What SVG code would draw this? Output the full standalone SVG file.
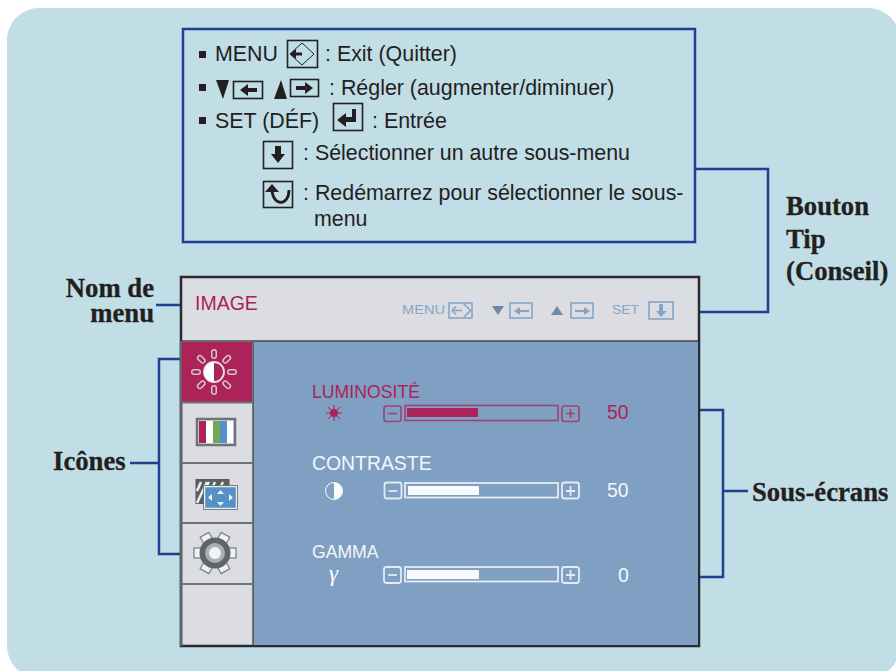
<svg xmlns="http://www.w3.org/2000/svg" width="896" height="671" viewBox="0 0 896 671">
<style>
.t{font-family:"Liberation Sans",Arial,sans-serif;fill:#231f20;font-size:21.4px}
.b{font-family:"Liberation Serif","Times New Roman",serif;font-weight:bold;fill:#231f20;font-size:26.7px;stroke:#231f20;stroke-width:.3}
.c{fill:none;stroke:#1f3f8f;stroke-width:2.5}
.k{fill:none;stroke:#231f20;stroke-width:1.6}
.s{font-family:"Liberation Sans",Arial,sans-serif;font-size:19.400px}
.w{fill:#f8f9fb}.wl{fill:none;stroke:#e4ebf3;stroke-width:1.8}
.r{fill:#ab2358}.rl{fill:none;stroke:#ab2358;stroke-width:1.6}.ro{opacity:.75}
.m{fill:none;stroke:#86a5c6;stroke-width:1.6}
.mf{fill:#86a5c6}
.mt{font-family:"Liberation Sans",Arial,sans-serif;font-size:13.500px;fill:#86a5c6}
.ray{stroke:#d9c3cd;stroke-width:6;stroke-linecap:round}
.ray2{stroke:#ab2358;stroke-width:3;stroke-linecap:round}
</style>
<defs>
<path id="rays" d="M16 0H20"/>
<rect id="tooth" x="13" y="-5" width="8" height="10" fill="#f1f2f4" stroke="#777c80" stroke-width="1.200"/>
</defs>
<rect width="896" height="671" fill="#fff"/>
<rect x="7" y="8" width="893" height="670" rx="32" fill="#c1dde6"/>
<g id="connectors">
<path class="c" d="M695 169H768V312H700"/>
<path class="c" d="M156 305H181"/>
<path class="c" d="M181 359H159V554H181"/>
<path class="c" d="M130 463H159"/>
<path class="c" d="M700 410H723V577H700"/>
<path class="c" d="M723 491H748"/>
</g>
<g id="tip-box">
<rect x="183" y="29" width="512" height="213" fill="#c1dde6" stroke="#1f3f8f" stroke-width="2.500"/>
<rect x="199" y="51" width="7" height="7" fill="#231f20"/>
<text class="t" x="215" y="61">MENU</text>
<rect x="287.500" y="40.500" width="30" height="27" class="k"/>
<path d="M302 43L314 54L302 65L290 54Z" fill="none" stroke="#231f20"/>
<path d="M290 54L296 49V59Z M295 52.500H302V55.500H295Z" fill="#231f20"/>
<text class="t" x="325" y="61">: Exit (Quitter)</text>
<rect x="199" y="84" width="7" height="7" fill="#231f20"/>
<path d="M216 80H229L223 99Z" fill="#231f20"/>
<rect x="233.500" y="81.500" width="29" height="17" class="k"/>
<path d="M240 90L248 84V88H257V92H248V96Z" fill="#231f20"/>
<path d="M274 99H287L281 80Z" fill="#231f20"/>
<rect x="290.500" y="79.500" width="28" height="17" class="k"/>
<path d="M313 88L305 82V86H296V90H305V94Z" fill="#231f20"/>
<text class="t" x="329" y="95">: Régler (augmenter/diminuer)</text>
<rect x="199" y="117" width="7" height="7" fill="#231f20"/>
<text class="t" x="215" y="128">SET (DÉF)</text>
<rect x="333.500" y="103.500" width="29" height="27" class="k"/>
<path d="M337 120L346 113V117H352V109H356V122H346V127Z" fill="#231f20"/>
<text class="t" x="372" y="128">: Entrée</text>
<rect x="263.500" y="141.500" width="29" height="27" class="k"/>
<path d="M278 163L271 154H275V146H281V154H285Z" fill="#231f20"/>
<text class="t" x="303" y="160">: Sélectionner un autre sous-menu</text>
<rect x="263.500" y="181.500" width="29" height="26" class="k"/>
<path d="M272 190C273 207 289 206 289 190" fill="none" stroke="#231f20" stroke-width="2.800"/>
<path d="M272 184L279 192H265Z" fill="#231f20"/>
<text class="t" x="303" y="200">: Redémarrez pour sélectionner le sous-</text>
<text class="t" x="314" y="226">menu</text>
</g>
<g id="label-bouton"><text class="b" x="786" y="215">Bouton</text><text class="b" x="786" y="248">Tip</text><text class="b" x="786" y="280">(Conseil)</text></g>
<g id="label-nom"><text class="b" x="154" y="297" text-anchor="end">Nom de</text><text class="b" x="154" y="322" text-anchor="end">menu</text></g>
<g id="label-icones"><text class="b" x="53" y="470">Icônes</text></g>
<g id="label-sous"><text class="b" x="752" y="501">Sous-écrans</text></g>
<g id="monitor">
<rect x="181" y="277" width="518" height="369" fill="#dcdde2" stroke="#2b2b2d" stroke-width="2.500"/>
<rect x="253" y="341" width="445" height="304" fill="#7fa0c2"/>
<path d="M181 341V646" stroke="#5f656a" stroke-width="2.500"/>
<path d="M182 341H698" stroke="#444" stroke-width="1.500"/>
<path d="M253 341V645" stroke="#4b5156" stroke-width="1.500"/>
<text x="195" y="310" font-family="Liberation Sans,Arial,sans-serif" font-size="19.500" fill="#ab2358">IMAGE</text>
<text class="mt" x="402" y="314" textLength="43" lengthAdjust="spacingAndGlyphs">MENU</text>
<rect x="449" y="303" width="23" height="15" class="m"/><path d="M452 310.500H462M452 310.500L456 306.500M452 310.500L456 314.500M464 304L470.500 310.500L464 317" class="m"/>
<path d="M492 306H504L498 315Z" fill="#7088ab"/>
<rect x="510" y="303" width="22" height="15" class="m"/><path d="M514 311L520 307V310H529V312H520V315Z" class="mf"/>
<path d="M551 315H563L557 306Z" fill="#7088ab"/>
<rect x="571" y="303" width="22" height="15" class="m"/><path d="M590 311L584 307V310H575V312H584V315Z" class="mf"/>
<text class="mt" x="612" y="314" textLength="27" lengthAdjust="spacingAndGlyphs">SET</text>
<rect x="649" y="302" width="24" height="17" class="m"/><path d="M661 317L656 311H659V304H663V311H667Z" class="mf"/>
</g>
<g id="icon-brightness">
<rect x="182" y="342" width="70" height="60" fill="#ab2358"/>
<g transform="translate(214 372)">
<g class="ray"><use href="#rays"/><use href="#rays" transform="rotate(45)"/><use href="#rays" transform="rotate(90)"/><use href="#rays" transform="rotate(135)"/><use href="#rays" transform="rotate(180)"/><use href="#rays" transform="rotate(225)"/><use href="#rays" transform="rotate(270)"/><use href="#rays" transform="rotate(315)"/></g>
<g class="ray2"><use href="#rays"/><use href="#rays" transform="rotate(45)"/><use href="#rays" transform="rotate(90)"/><use href="#rays" transform="rotate(135)"/><use href="#rays" transform="rotate(180)"/><use href="#rays" transform="rotate(225)"/><use href="#rays" transform="rotate(270)"/><use href="#rays" transform="rotate(315)"/></g>
<circle r="10" fill="#ab2358" stroke="#eadfe4" stroke-width="1.800"/>
<path d="M0 -10A10 10 0 0 0 0 10Z" fill="#fff"/>
</g>
</g>
<g id="icon-color">
<path d="M182 402.500H252" stroke="#6d7378" stroke-width="2"/>
<rect x="197" y="419" width="38" height="26" fill="#dcdde2" stroke="#6d7378" stroke-width="2.500"/>
<rect x="199" y="421" width="7" height="22" fill="#ab2358"/><rect x="206" y="421" width="7" height="22" fill="#fff"/><rect x="213" y="421" width="7" height="22" fill="#6fa85a"/><rect x="220" y="421" width="7" height="22" fill="#5590c6"/><rect x="227" y="421" width="6" height="22" fill="#fff"/>
</g>
<g id="icon-screen">
<path d="M182 463H252" stroke="#6d7378" stroke-width="2"/>
<rect x="196" y="479.500" width="33" height="24" fill="#5a5f63" stroke="#55595c"/>
<path d="M197 491L201 482M197 503L207 482M205 489L209 482M213 486L215 482M221 486L223 482" stroke="#eee" stroke-width="2.500"/>
<rect x="204.500" y="486.500" width="32" height="22" fill="#5590c6" stroke="#e8edf3" stroke-width="1.500"/>
<rect x="203.500" y="485.500" width="34" height="24" fill="none" stroke="#666" stroke-width=".8"/>
<path d="M220.500 490L224 494H217ZM220.500 506L224 502H217ZM208 497.500L212 494V501ZM233 497.500L229 494V501Z" fill="#e8f0f8"/>
</g>
<g id="icon-gear">
<path d="M182 523H252" stroke="#6d7378" stroke-width="2"/>
<path d="M182 584H252" stroke="#6d7378" stroke-width="2"/>
<g transform="translate(215 553)">
<use href="#tooth"/><use href="#tooth" transform="rotate(60)"/><use href="#tooth" transform="rotate(120)"/><use href="#tooth" transform="rotate(180)"/><use href="#tooth" transform="rotate(240)"/><use href="#tooth" transform="rotate(300)"/>
<circle r="15.500" fill="#5f6569"/>
<circle r="10" fill="#a9afb5"/>
<circle r="6" fill="#f1f3f5"/>
</g>
</g>
<g id="row-luminosite">
<text class="s" x="312" y="398" fill="#ab2358" style="font-size:17.700px">LUMINOSITÉ</text>
<circle cx="334" cy="413" r="4" class="r"/><path d="M334 405V421M326 413H342M328 407L340 419M340 407L328 419" stroke="#ab2358"/>
<g class="ro"><rect x="384" y="406" width="17" height="15.500" rx="2.500" class="rl"/><path d="M388 413.500H397" class="rl"/>
<rect x="405" y="405.500" width="153" height="15" class="rl"/>
<rect x="562" y="406" width="17" height="15.500" rx="2.500" class="rl"/><path d="M566 413.500H575M570.500 409V418" class="rl"/></g>
<rect x="407" y="408" width="71" height="9" class="r"/>
<text class="s" x="607" y="419" fill="#ab2358">50</text>
</g>
<g id="row-contraste">
<text class="s" x="312" y="470" fill="#f4f7fa">CONTRASTE</text>
<circle cx="334" cy="491" r="8.500" fill="none" stroke="#fff"/><path d="M334 482.500A8.500 8.500 0 0 1 334 499.500Z" class="w"/>
<rect x="384.500" y="482.500" width="17" height="16" rx="2.500" class="wl"/><path d="M388.500 491H397.500" class="wl"/>
<rect x="405" y="483" width="153" height="14.500" class="wl"/><rect x="408" y="486" width="71" height="9" class="w"/>
<rect x="562" y="482.500" width="17" height="16" rx="2.500" class="wl"/><path d="M566 491H575M570.500 486V496" class="wl"/>
<text class="s" x="607" y="497" fill="#f4f7fa">50</text>
</g>
<g id="row-gamma">
<text class="s" x="312" y="558" fill="#f4f7fa" style="font-size:17.600px">GAMMA</text>
<text x="329" y="581" font-family="Liberation Serif,serif" font-style="italic" font-size="23" fill="#fff">γ</text>
<rect x="384" y="567" width="17" height="16" rx="2.500" class="wl"/><path d="M388 575H397" class="wl"/>
<rect x="405" y="567" width="153" height="14.500" class="wl"/><rect x="407" y="570" width="72" height="9" class="w"/>
<rect x="562" y="567" width="17" height="16" rx="2.500" class="wl"/><path d="M566 575H575M570.500 570V580" class="wl"/>
<text class="s" x="618" y="582" fill="#f4f7fa">0</text>
</g>
</svg>
